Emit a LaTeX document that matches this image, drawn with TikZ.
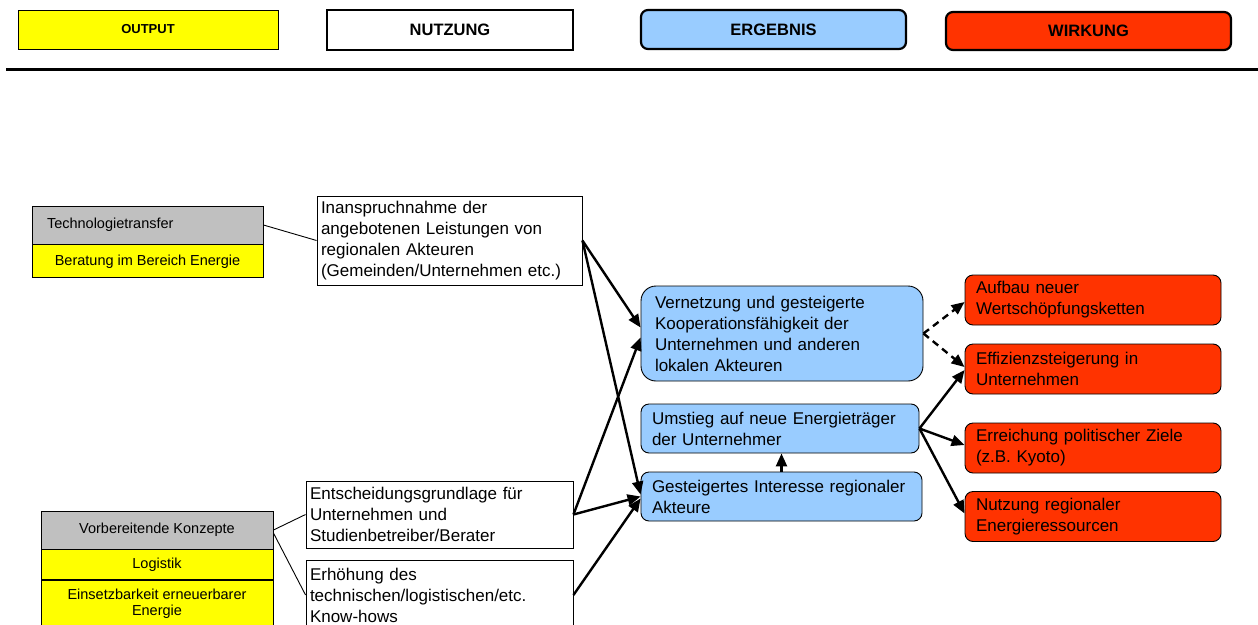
\documentclass[tikz,border=0pt]{standalone}
\usepackage{fontspec}
\setmainfont{Liberation Sans}
\usetikzlibrary{arrows.meta, positioning}

\definecolor{gelb}{HTML}{FFFF00}
\definecolor{grau}{HTML}{C0C0C0}
\definecolor{hellblau}{HTML}{99CCFF}
\definecolor{rot}{HTML}{FF3300}

\newcommand{\textgross}{\fontsize{17}{21}\selectfont}
\newcommand{\textklein}{\fontsize{14.5}{16.5}\selectfont}

\begin{document}
\begin{tikzpicture}[
        x=1pt, y=-1pt,
        kopf/.style={draw, line width=2.2pt, minimum height=39pt, inner sep=0pt, font=\fontsize{16.5}{20}\selectfont\bfseries},
        konzept/.style={draw, fill=grau, line width=0.9pt, minimum height=38pt, font=\textklein},
        leistung/.style={draw, fill=gelb, line width=0.9pt, inner sep=0pt, align=center, font=\textklein},
        nutz/.style={draw, fill=white, line width=0.9pt, inner xsep=4pt, align=left, font=\textgross},
        erg/.style={draw, fill=hellblau, line width=0.9pt, rounded corners=8pt, inner xsep=11pt, align=left, font=\textgross},
        wirk/.style={draw, fill=rot, line width=0.9pt, rounded corners=8pt, inner xsep=11pt, text width=234pt, minimum height=50pt, align=left, font=\textgross},
        linie/.style={line width=0.9pt},
        pfeil/.style={-{Triangle[length=13pt,width=11pt]}, line width=2.4pt},
        strich/.style={dash pattern=on 7pt off 5pt}
    ]
    \useasboundingbox (0,0) rectangle (1258,624);

    % Kopfzeile
    \node[kopf, fill=gelb, line width=0.9pt, minimum width=260pt, font=\fontsize{13}{15}\selectfont\bfseries] (output) at (148,29.5) {OUTPUT};
    \node[kopf, fill=white, minimum width=246pt, minimum height=40pt] (nutzung) at (450,30) {NUTZUNG};
    \node[kopf, fill=hellblau, rounded corners=7pt, minimum width=265pt] (ergebnis) at (773.5,29.5) {ERGEBNIS};
    \node[kopf, fill=rot, rounded corners=7pt, minimum width=285pt, minimum height=38pt] (wirkung) at (1088.5,31) {WIRKUNG};
    \draw[line width=3pt] (6,69) -- (1258,69);

    % Output links
    \node[konzept, text width=201pt, inner xsep=15pt, align=left] (techtransfer) at (147.5,225) {Technologietransfer};
    \node[leistung, minimum width=231pt, minimum height=33pt, below=0pt of techtransfer] (beratung) {Beratung im Bereich Energie};

    \node[konzept, minimum width=232pt, inner sep=0pt] (vorbereitend) at (157,530) {Vorbereitende Konzepte};
    \node[leistung, minimum width=232pt, minimum height=30pt, below=0pt of vorbereitend] (logistik) {Logistik};
    \node[leistung, minimum width=232pt, minimum height=46pt, below=0pt of logistik] (einsetzbar) {Einsetzbarkeit erneuerbarer\\Energie};

    % Nutzung
    \node[nutz, text width=257pt, minimum height=89pt] (inanspruch) at (449.5,240.5) {Inanspruchnahme der\\angebotenen Leistungen von\\regionalen Akteuren\\(Gemeinden/Unternehmen etc.)};
    \node[nutz, text width=259pt, minimum height=67pt] (entscheidung) at (439.5,514.5) {Entscheidungsgrundlage für\\Unternehmen und\\Studienbetreiber/Berater};
    \node[nutz, text width=259pt, minimum height=70pt] (knowhow) at (439.5,595) {Erhöhung des\\technischen/logistischen/etc.\\Know-hows};

    % Ergebnis
    \node[erg, rounded corners=15pt, inner xsep=14pt, text width=254pt, minimum height=95pt] (vernetzung) at (782,333.5) {Vernetzung und gesteigerte\\Kooperationsfähigkeit der\\Unternehmen und anderen\\lokalen Akteuren};
    \node[erg, text width=256pt, minimum height=49pt] (umstieg) at (780,428.5) {Umstieg auf neue Energieträger\\der Unternehmer};
    \node[erg, text width=259pt, minimum height=49pt] (interesse) at (781.5,496.5) {Gesteigertes Interesse regionaler\\Akteure};

    % Wirkung
    \node[wirk] (aufbau) at (1093,300) {Aufbau neuer\\Wertschöpfungsketten};
    \node[wirk] (effizienz) at (1093,369) {Effizienzsteigerung in\\Unternehmen};
    \node[wirk] (politik) at (1093,448) {Erreichung politischer Ziele\\(z.B. Kyoto)};
    \node[wirk] (ressourcen) at (1093,516.5) {Nutzung regionaler\\Energieressourcen};

    % Linien Output -> Nutzung
    \draw[linie] (techtransfer.east) -- (inanspruch.west);
    \draw[linie] (vorbereitend.east) -- (entscheidung.west);
    \draw[linie] ([yshift=-3pt]vorbereitend.east) -- (knowhow.west);

    % Pfeile Nutzung -> Ergebnis
    \draw[pfeil] (inanspruch.east) -- ([yshift=6pt]vernetzung.west);
    \draw[pfeil] (inanspruch.east) -- ([yshift=2pt]interesse.west);
    \draw[pfeil] (entscheidung.east) -- ([yshift=-4pt]vernetzung.west);
    \draw[pfeil] (entscheidung.east) -- (interesse.west);
    \draw[pfeil] (knowhow.east) -- ([yshift=-2pt]interesse.west);
    \draw[pfeil] (interesse.north) -- (interesse.north |- umstieg.south);

    % Pfeile Ergebnis -> Wirkung
    \draw[pfeil, strich] (vernetzung.east) -- ([yshift=-2pt]aufbau.west);
    \draw[pfeil, strich] (vernetzung.east) -- ([yshift=2pt]effizienz.west);
    \draw[pfeil] (umstieg.east) -- ([yshift=-1pt]effizienz.west);
    \draw[pfeil] (umstieg.east) -- ([yshift=3pt]politik.west);
    \draw[pfeil] (umstieg.east) -- ([yshift=3pt]ressourcen.west);

\end{tikzpicture}
\end{document}
